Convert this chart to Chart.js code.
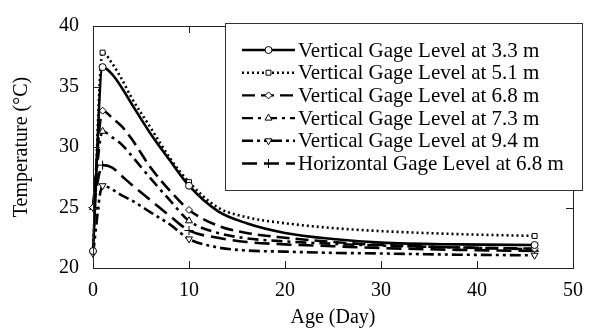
<!DOCTYPE html>
<html>
<head>
<meta charset="utf-8">
<script src="https://cdn.jsdelivr.net/npm/chart.js@4.4.0/dist/chart.umd.min.js"></script>
<style>
  html, body { margin: 0; padding: 0; background: #fff; }
  #wrap { width: 594px; height: 331px; }
</style>
</head>
<body>
<div id="wrap"><canvas id="c" width="594" height="331"></canvas></div>
<script>
// Age of the concrete at each reading (days)
const ageDays = [0, 1, 2, 3, 4, 6, 8, 10, 13, 16, 20, 25, 30, 38, 46];

// Measured temperatures (°C) at each gage
const vertical33 = [21.4, 36.6, 36.0, 34.9, 33.6, 31.1, 28.9, 26.8, 24.7, 23.7, 22.9, 22.4, 22.1, 21.95, 21.9];
const vertical51 = [21.4, 37.8, 36.9, 35.6, 34.1, 31.6, 29.1, 27.1, 25.0, 24.2, 23.7, 23.3, 23.05, 22.8, 22.65];
const vertical68 = [25.0, 33.0, 32.4, 31.7, 30.7, 28.3, 26.4, 24.8, 23.5, 22.9, 22.5, 22.15, 21.9, 21.7, 21.6];
const vertical73 = [25.0, 31.3, 30.8, 30.2, 29.3, 27.4, 25.6, 23.9, 22.9, 22.45, 22.2, 22.0, 21.85, 21.7, 21.55];
const vertical94 = [21.2, 26.8, 26.5, 26.0, 25.6, 24.6, 23.6, 22.4, 21.7, 21.45, 21.35, 21.25, 21.2, 21.1, 21.05];
const horizontal68 = [25.0, 28.5, 28.3, 27.6, 26.9, 25.6, 24.3, 23.1, 22.5, 22.15, 21.95, 21.8, 21.65, 21.5, 21.4];

// Ages at which the gage symbols are shown
const markerDays = [0, 1, 10, 46];

const seriesLabels = [
  'Vertical Gage Level at 3.3 m',
  'Vertical Gage Level at 5.1 m',
  'Vertical Gage Level at 6.8 m',
  'Vertical Gage Level at 7.3 m',
  'Vertical Gage Level at 9.4 m',
  'Horizontal Gage Level at 6.8 m'
];
const xTickValues = [0, 10, 20, 30, 40, 50];
const yTickValues = [20, 25, 30, 35, 40];

const FONT = '"Liberation Serif", "Times New Roman", serif';

const seriesValues = [vertical33, vertical51, vertical68, vertical73, vertical94, horizontal68];
const lineDash = [[], [2, 3], [13, 6], [11, 5, 3, 5], [11, 4, 3, 4, 3, 4], [15, 7]];
const pointStyle = ['circle', 'rect', 'rectRot', 'triangle', 'triangle', 'cross'];
const pointRotation = [0, 0, 0, 0, 180, 0];
const pointSize = [3.5, 3.5, 3.5, 4, 4, 4.5];

const datasets = seriesValues.map((vals, i) => ({
  label: seriesLabels[i],
  data: ageDays.map((d, k) => ({ x: d, y: vals[k] })),
  borderColor: '#000',
  borderWidth: 2.6,
  borderDash: lineDash[i],
  backgroundColor: '#fff',
  cubicInterpolationMode: 'monotone',
  pointStyle: pointStyle[i],
  pointRotation: pointRotation[i],
  pointBorderColor: '#000',
  pointBackgroundColor: '#fff',
  pointBorderWidth: 1,
  pointRadius: ctx => markerDays.includes(ageDays[ctx.dataIndex]) ? pointSize[i] : 0,
  pointHoverRadius: 0,
  clip: false,
  fill: false
}));

// Plot frame with inward tick marks plus the boxed legend
const framePlugin = {
  id: 'frameAndLegend',
  afterDatasetsDraw(chart) {
    const { ctx, chartArea: a, scales: { x, y } } = chart;
    ctx.save();
    ctx.strokeStyle = '#222';
    ctx.lineWidth = 1;
    ctx.setLineDash([]);
    ctx.strokeRect(Math.round(a.left) + 0.5, Math.round(a.top) + 0.5,
                   Math.round(a.right - a.left), Math.round(a.bottom - a.top));
    const len = 7;
    ctx.beginPath();
    xTickValues.forEach(v => {
      const px = Math.round(x.getPixelForValue(v)) + 0.5;
      ctx.moveTo(px, a.bottom); ctx.lineTo(px, a.bottom - len);
      ctx.moveTo(px, a.top); ctx.lineTo(px, a.top + len);
    });
    yTickValues.forEach(v => {
      const py = Math.round(y.getPixelForValue(v)) + 0.5;
      ctx.moveTo(a.left, py); ctx.lineTo(a.left + len, py);
      ctx.moveTo(a.right, py); ctx.lineTo(a.right - len, py);
    });
    ctx.stroke();

    // legend box
    const box = { left: 225, top: 23, right: 582, bottom: 190 };
    ctx.fillStyle = '#fff';
    ctx.fillRect(box.left, box.top, box.right - box.left, box.bottom - box.top);
    ctx.strokeStyle = '#333';
    ctx.strokeRect(box.left + 0.5, box.top + 0.5, box.right - box.left, box.bottom - box.top);

    const rowTop = 50, rowGap = 22.7, lineX0 = 242, lineX1 = 295, textX = 298;
    ctx.font = '21px ' + FONT;
    ctx.textBaseline = 'middle';
    ctx.textAlign = 'left';
    chart.data.datasets.forEach((ds, i) => {
      const cy = rowTop + i * rowGap;
      ctx.strokeStyle = '#000';
      ctx.lineWidth = 2.4;
      ctx.setLineDash(ds.borderDash);
      ctx.beginPath();
      ctx.moveTo(lineX0, cy); ctx.lineTo(lineX1, cy);
      ctx.stroke();
      ctx.setLineDash([]);
      ctx.fillStyle = '#fff';
      ctx.strokeStyle = '#000';
      ctx.lineWidth = 1;
      Chart.helpers.drawPoint(ctx, {
        pointStyle: ds.pointStyle,
        rotation: ds.pointRotation,
        radius: pointSize[i],
        borderWidth: 1
      }, (lineX0 + lineX1) / 2, cy);
      ctx.fillStyle = '#000';
      ctx.fillText(ds.label, textX, cy + 1);
    });
    ctx.restore();
  }
};

new Chart(document.getElementById('c'), {
  type: 'line',
  data: { datasets },
  options: {
    responsive: false,
    animation: false,
    events: [],
    layout: { padding: { top: 19, right: 9, left: 0, bottom: 0 } },
    plugins: { legend: { display: false }, tooltip: { enabled: false } },
    scales: {
      x: {
        type: 'linear',
        min: 0, max: 50,
        afterFit: s => { s.height = 63; },
        afterBuildTicks: s => { s.ticks = xTickValues.map(v => ({ value: v })); },
        grid: { display: false, drawTicks: false },
        border: { display: false },
        ticks: { color: '#000', padding: 11, font: { family: FONT, size: 20 } },
        title: { display: true, text: 'Age (Day)', color: '#000', padding: { top: 0, bottom: 1 },
                 font: { family: FONT, size: 20 } }
      },
      y: {
        type: 'linear',
        min: 20, max: 40,
        afterFit: s => { s.width = 93; },
        afterBuildTicks: s => { s.ticks = yTickValues.map(v => ({ value: v })); },
        grid: { display: false, drawTicks: false },
        border: { display: false },
        ticks: { color: '#000', padding: 14, font: { family: FONT, size: 20 } },
        title: { display: true, text: 'Temperature (°C)', color: '#000', padding: { top: 10, bottom: 0 },
                 font: { family: FONT, size: 20 } }
      }
    }
  },
  plugins: [framePlugin]
});
</script>
</body>
</html>
